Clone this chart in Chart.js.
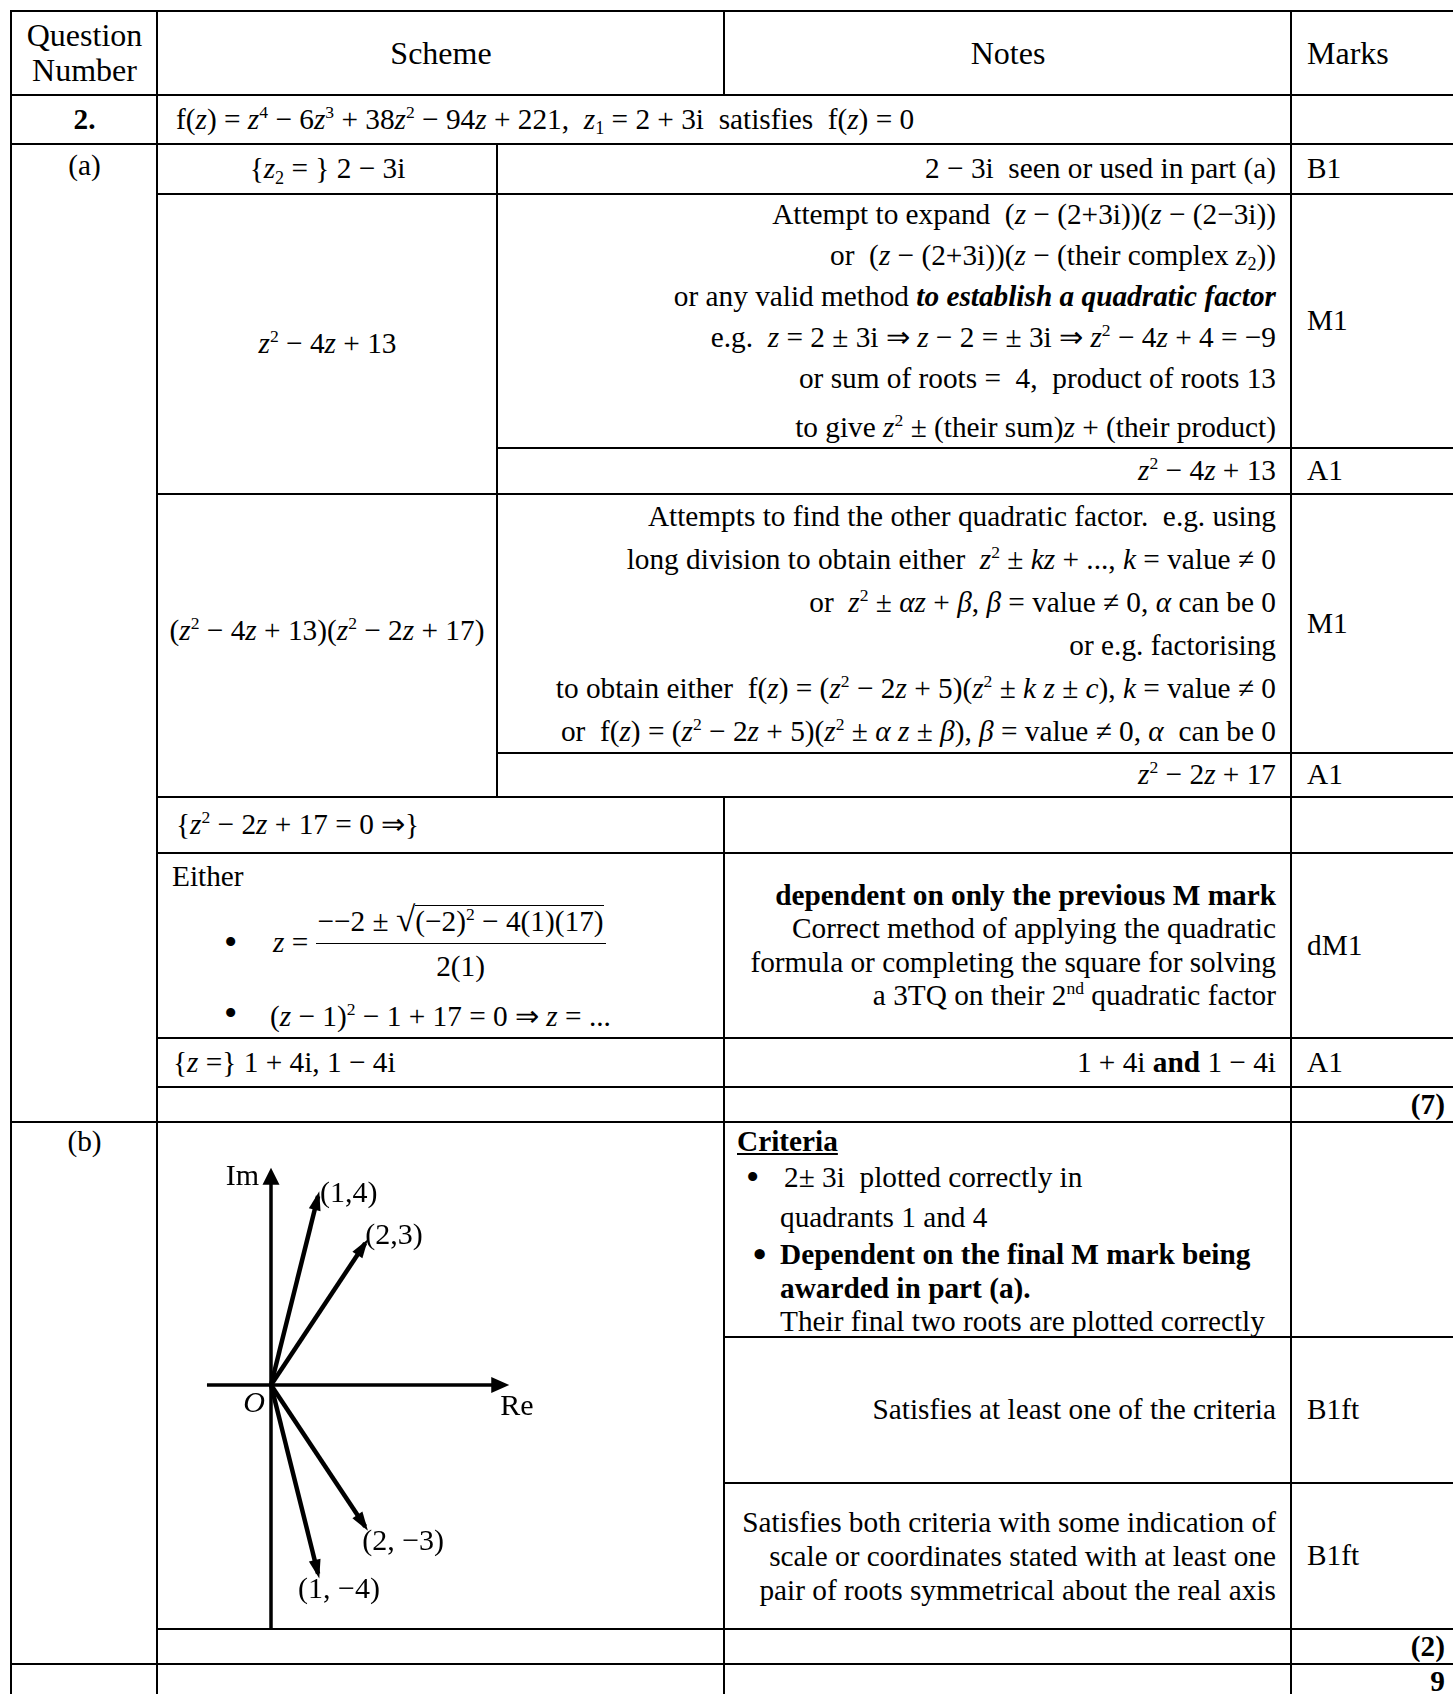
<!DOCTYPE html>
<html>
<head>
<meta charset="utf-8">
<script src="https://cdn.jsdelivr.net/npm/chart.js@4.4.1/dist/chart.umd.min.js"></script>
<style>
html, body { margin: 0; padding: 0; background: #fff; }
body {
    width: 1453px; height: 1694px; overflow: hidden; position: relative;
    font-family: "Liberation Serif", "Times New Roman", serif; color: #000;
}
.c {
    position: absolute; box-sizing: border-box; border: 2px solid #000;
    font-size: 29.3px; line-height: 1.15; white-space: nowrap;
    display: flex; flex-direction: column; justify-content: center;
    padding: 0 14px 0 15px;
}
.l { align-items: flex-start; }
.r { align-items: flex-end; text-align: right; }
.m { align-items: center; text-align: center; }
.top { justify-content: flex-start; }
.h { font-size: 32px; line-height: 35px; }
.sc { padding-left: 18px; }
sup { font-size: 60%; line-height: 0; position: relative; top: -0.62em; vertical-align: baseline; }
sub { font-size: 62%; line-height: 0; position: relative; top: 0.3em; vertical-align: baseline; }
.abs { position: absolute; white-space: nowrap; }
.dot { font-size: 38px; }
.frac { display: inline-flex; flex-direction: column; align-items: center; vertical-align: middle; }
.frac .num { line-height: 36px; padding: 0 2px 4px; }
.frac .den { line-height: 36px; padding-top: 4px; border-top: 1.5px solid #000; width: 100%; text-align: center; }
.ovl { border-top: 1.5px solid #000; line-height: 30px; display: inline-block; }
.rad { font-size: 1.2em; }
#argand { position: absolute; left: 158px; top: 1123px; width: 565px; height: 505px; }
</style>
</head>
<body>

<!-- header -->
<div class="c m h" data-box="11 157 11 95"><div>Question<br>Number</div></div>
<div class="c m h" data-box="157 724 11 95"><div>Scheme</div></div>
<div class="c m h" data-box="724 1291 11 95"><div>Notes</div></div>
<div class="c l h" data-box="1291 1454 11 95"><div>Marks</div></div>

<!-- question row -->
<div class="c m" data-box="11 157 95 144"><div><b>2.</b></div></div>
<div class="c l sc" data-box="157 1291 95 144"><div>f(<i>z</i>) = <i>z</i><sup>4</sup> − 6<i>z</i><sup>3</sup> + 38<i>z</i><sup>2</sup> − 94<i>z</i> + 221,&nbsp; <i>z</i><sub>1</sub> = 2 + 3i&nbsp; satisfies&nbsp; f(<i>z</i>) = 0</div></div>
<div class="c l" data-box="1291 1454 95 144"></div>

<!-- part (a) -->
<div class="c m top" data-box="11 157 144 1122"><div style="margin-top:4px">(a)</div></div>

<div class="c m" data-box="157 497 144 194"><div>{<i>z</i><sub>2</sub> = } 2 − 3i</div></div>
<div class="c r" data-box="497 1291 144 194"><div>2 − 3i&nbsp; seen or used in part (a)</div></div>
<div class="c l" data-box="1291 1454 144 194"><div>B1</div></div>

<div class="c m" data-box="157 497 194 494"><div><i>z</i><sup>2</sup> − 4<i>z</i> + 13</div></div>
<div class="c r" data-box="497 1291 194 448" style="line-height:41px">
  <div>Attempt to expand&nbsp; (<i>z</i> − (2+3i))(<i>z</i> − (2−3i))</div>
  <div>or&nbsp; (<i>z</i> − (2+3i))(<i>z</i> − (their complex <i>z</i><sub>2</sub>))</div>
  <div>or any valid method <b><i>to establish a quadratic factor</i></b></div>
  <div>e.g.&nbsp; <i>z</i> = 2 ± 3i ⇒ <i>z</i> − 2 = ± 3i ⇒ <i>z</i><sup>2</sup> − 4<i>z</i> + 4 = −9</div>
  <div>or sum of roots =&nbsp; 4,&nbsp; product of roots 13</div>
  <div style="margin-top:8px">to give <i>z</i><sup>2</sup> ± (their sum)<i>z</i> + (their product)</div>
</div>
<div class="c l" data-box="1291 1454 194 448"><div>M1</div></div>
<div class="c r" data-box="497 1291 448 494"><div><i>z</i><sup>2</sup> − 4<i>z</i> + 13</div></div>
<div class="c l" data-box="1291 1454 448 494"><div>A1</div></div>

<div class="c m" data-box="157 497 494 797" style="padding:0 0 30px 0"><div>(<i>z</i><sup>2</sup> − 4<i>z</i> + 13)(<i>z</i><sup>2</sup> − 2<i>z</i> + 17)</div></div>
<div class="c r" data-box="497 1291 494 753" style="line-height:43px">
  <div>Attempts to find the other quadratic factor.&nbsp; e.g. using</div>
  <div>long division to obtain either&nbsp; <i>z</i><sup>2</sup> ± <i>kz</i> + ..., <i>k</i> = value ≠ 0</div>
  <div>or&nbsp; <i>z</i><sup>2</sup> ± <i>αz</i> + <i>β</i>, <i>β</i> = value ≠ 0, <i>α</i> can be 0</div>
  <div>or e.g. factorising</div>
  <div>to obtain either&nbsp; f(<i>z</i>) = (<i>z</i><sup>2</sup> − 2<i>z</i> + 5)(<i>z</i><sup>2</sup> ± <i>k z</i> ± <i>c</i>), <i>k</i> = value ≠ 0</div>
  <div>or&nbsp; f(<i>z</i>) = (<i>z</i><sup>2</sup> − 2<i>z</i> + 5)(<i>z</i><sup>2</sup> ± <i>α z</i> ± <i>β</i>), <i>β</i> = value ≠ 0, <i>α</i>&nbsp; can be 0</div>
</div>
<div class="c l" data-box="1291 1454 494 753"><div>M1</div></div>
<div class="c r" data-box="497 1291 753 797"><div><i>z</i><sup>2</sup> − 2<i>z</i> + 17</div></div>
<div class="c l" data-box="1291 1454 753 797"><div>A1</div></div>

<div class="c l sc" data-box="157 724 797 853"><div>{<i>z</i><sup>2</sup> − 2<i>z</i> + 17 = 0 ⇒}</div></div>
<div class="c r" data-box="724 1291 797 853"></div>
<div class="c l" data-box="1291 1454 797 853"></div>

<div class="c l top" data-box="157 724 853 1038">
  <div class="abs" style="left:14px; top:5px; line-height:34px">Either</div>
  <div class="abs" style="left:66px; top:43px; height:92px; display:flex; align-items:center">
    <span class="dot" style="width:49px">•</span><span><i>z</i> =&nbsp;</span>
    <span class="frac"><span class="num">−−2 ± <span class="rad">√</span><span class="ovl">(−2)<sup>2</sup> − 4(1)(17)</span></span><span class="den">2(1)</span></span>
  </div>
  <div class="abs" style="left:66px; top:142px; line-height:34px"><span class="dot" style="display:inline-block;width:46px">•</span>(<i>z</i> − 1)<sup>2</sup> − 1 + 17 = 0 ⇒ <i>z</i> = ...</div>
</div>
<div class="c r" data-box="724 1291 853 1038" style="line-height:33.5px">
  <div><b>dependent on only the previous M mark</b></div>
  <div>Correct method of applying the quadratic</div>
  <div>formula or completing the square for solving</div>
  <div>a 3TQ on their 2<sup>nd</sup> quadratic factor</div>
</div>
<div class="c l" data-box="1291 1454 853 1038"><div>dM1</div></div>

<div class="c l sc" data-box="157 724 1038 1087" style="padding-left:15px"><div>{<i>z</i> =} 1 + 4i, 1 − 4i</div></div>
<div class="c r" data-box="724 1291 1038 1087"><div>1 + 4i <b>and</b> 1 − 4i</div></div>
<div class="c l" data-box="1291 1454 1038 1087"><div>A1</div></div>

<div class="c l" data-box="157 724 1087 1122"></div>
<div class="c r" data-box="724 1291 1087 1122"></div>
<div class="c r" data-box="1291 1454 1087 1122" style="padding-right:8px"><div><b>(7)</b></div></div>

<!-- part (b) -->
<div class="c m top" data-box="11 157 1122 1664"><div style="margin-top:2px">(b)</div></div>
<div class="c l" data-box="157 724 1122 1629"></div>

<div class="c l top" data-box="724 1291 1122 1337" style="padding-left:12px">
  <div style="line-height:36px"><b><u>Criteria</u></b></div>
  <div style="line-height:36px; padding-left:47px; position:relative"><span class="abs dot" style="left:9px">•</span>2± 3i&nbsp; plotted correctly in</div>
  <div style="line-height:44px; padding-left:43px">quadrants 1 and 4</div>
  <div style="line-height:30px; padding-left:43px; position:relative"><b class="abs dot" style="left:16px">•</b><b>Dependent on the final M mark being</b></div>
  <div style="line-height:38px; padding-left:43px"><b>awarded in part (a).</b></div>
  <div style="line-height:28px; padding-left:43px">Their final two roots are plotted correctly</div>
</div>
<div class="c l" data-box="1291 1454 1122 1337"></div>

<div class="c r" data-box="724 1291 1337 1483"><div>Satisfies at least one of the criteria</div></div>
<div class="c l" data-box="1291 1454 1337 1483"><div>B1ft</div></div>

<div class="c r" data-box="724 1291 1483 1629" style="line-height:34px">
  <div>Satisfies both criteria with some indication of</div>
  <div>scale or coordinates stated with at least one</div>
  <div>pair of roots symmetrical about the real axis</div>
</div>
<div class="c l" data-box="1291 1454 1483 1629"><div>B1ft</div></div>

<div class="c l" data-box="157 724 1629 1664"></div>
<div class="c r" data-box="724 1291 1629 1664"></div>
<div class="c r" data-box="1291 1454 1629 1664" style="padding-right:8px"><div><b>(2)</b></div></div>

<!-- total row -->
<div class="c l" data-box="11 157 1664 1730"></div>
<div class="c l" data-box="157 724 1664 1730"></div>
<div class="c r" data-box="724 1291 1664 1730"></div>
<div class="c r top" data-box="1291 1454 1664 1730" style="padding-right:8px"><div style="line-height:32px"><b>9</b></div></div>

<div id="argand"><canvas id="argandCanvas"></canvas></div>

<script>
// roots of f(z) plotted on the Argand diagram
const rootRe = [1, 2, 2, 1];
const rootIm = [4, 3, -3, -4];
const rootLabels = ["(1,4)", "(2,3)", "(2, \u22123)", "(1, \u22124)"];

// place the table cells: data-box = "x0 x1 y0 y1" (border centre lines)
document.querySelectorAll("[data-box]").forEach((el) => {
    const [x0, x1, y0, y1] = el.dataset.box.split(" ").map(Number);
    el.style.left = (x0 - 1) + "px";
    el.style.top = (y0 - 1) + "px";
    el.style.width = (x1 - x0 + 2) + "px";
    el.style.height = (y1 - y0 + 2) + "px";
});

function arrowHead(ctx, x, y, angle, len, half) {
    ctx.save();
    ctx.translate(x, y);
    ctx.rotate(angle);
    ctx.beginPath();
    ctx.moveTo(0, 0);
    ctx.lineTo(-len, -half);
    ctx.lineTo(-len, half);
    ctx.closePath();
    ctx.fill();
    ctx.restore();
}

// label offsets from each arrow tip, in pixels
const labelOffsets = [[2, -2], [0, -7], [-3, 16], [-20, 16]];

const argandPlugin = {
    id: "argand",
    beforeDatasetsDraw(chart, args, opts) {
        const { ctx, scales: { x, y } } = chart;
        const ox = x.getPixelForValue(0);
        const oy = y.getPixelForValue(0);
        const reEnd = x.getPixelForValue(opts.reTo);
        const imEnd = y.getPixelForValue(opts.imTo);

        ctx.save();
        ctx.strokeStyle = "#000";
        ctx.fillStyle = "#000";
        ctx.lineWidth = 3.5;
        ctx.beginPath();
        ctx.moveTo(x.getPixelForValue(opts.reFrom), oy);
        ctx.lineTo(reEnd - 8, oy);
        ctx.moveTo(ox, y.getPixelForValue(opts.imFrom));
        ctx.lineTo(ox, imEnd + 8);
        ctx.stroke();
        arrowHead(ctx, reEnd, oy, 0, 18, 8);
        arrowHead(ctx, ox, imEnd, -Math.PI / 2, 17, 8.5);

        ctx.font = '30px "Liberation Serif"';
        ctx.textBaseline = "middle";
        ctx.textAlign = "right";
        ctx.fillText("Im", ox - 12, imEnd + 9);
        ctx.textAlign = "left";
        ctx.fillText("Re", reEnd - 9, oy + 22);
        ctx.font = 'italic 30px "Liberation Serif"';
        ctx.textAlign = "right";
        ctx.fillText("O", ox - 6, oy + 19);
        ctx.restore();
    },
    afterDatasetsDraw(chart) {
        const { ctx } = chart;
        ctx.save();
        ctx.fillStyle = "#000";
        ctx.font = '30px "Liberation Serif"';
        ctx.textBaseline = "middle";
        ctx.textAlign = "left";
        chart.data.datasets.forEach((ds, i) => {
            const pts = chart.getDatasetMeta(i).data;
            const p0 = pts[0], p1 = pts[pts.length - 1];
            const ang = Math.atan2(p1.y - p0.y, p1.x - p0.x);
            arrowHead(ctx, p1.x + 5 * Math.cos(ang), p1.y + 5 * Math.sin(ang), ang, 19, 6);
            const [dx, dy] = labelOffsets[i];
            ctx.fillText(ds.label, p1.x + dx, p1.y + dy);
        });
        ctx.restore();
    },
};

new Chart(document.getElementById("argandCanvas").getContext("2d"), {
    type: "scatter",
    data: {
        datasets: rootRe.map((re, i) => ({
            label: rootLabels[i],
            data: [{ x: 0, y: 0 }, { x: re, y: rootIm[i] }],
            showLine: true,
            borderColor: "#000",
            borderWidth: 4.5,
            pointRadius: 0,
            fill: false,
        })),
    },
    options: {
        responsive: true,
        maintainAspectRatio: false,
        animation: false,
        events: [],
        layout: { padding: 0 },
        plugins: {
            legend: { display: false },
            tooltip: { enabled: false },
            argand: { reFrom: -1.36, reTo: 5.06, imFrom: -5.15, imTo: 4.6 },
        },
        scales: {
            x: { type: "linear", min: -2.4, max: 9.6, display: false },
            y: { type: "linear", min: -5.15, max: 5.55, display: false },
        },
    },
    plugins: [argandPlugin],
});
</script>
</body>
</html>
